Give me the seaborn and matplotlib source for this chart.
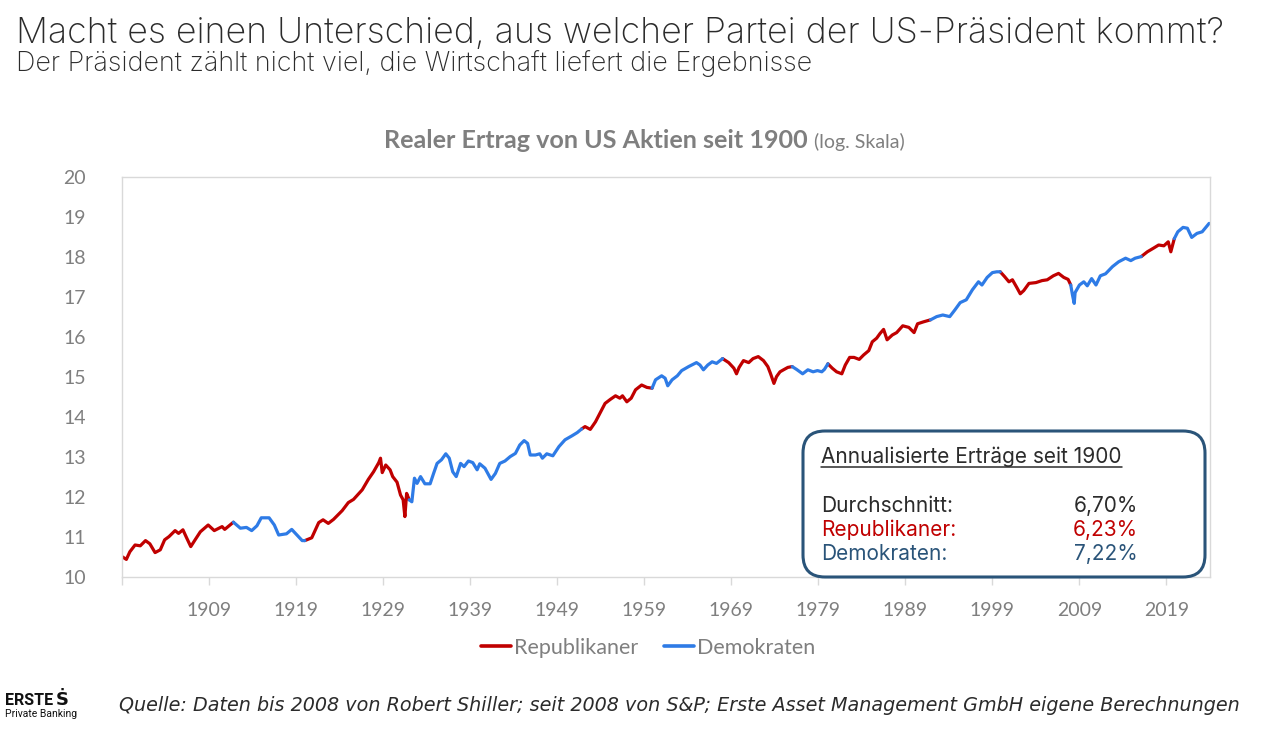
import numpy as np
import pandas as pd
import matplotlib
matplotlib.use("Agg")
import matplotlib.pyplot as plt
import seaborn as sns
from matplotlib.lines import Line2D
from matplotlib.patches import FancyBboxPatch

# ---------------- data ----------------
years = [
    1899.0, 1899.5, 1899.9, 1900.5, 1901.1, 1901.7, 1902.2, 1902.8, 1903.4, 1903.9,
    1904.4, 1905.1, 1905.5, 1906.0, 1906.4, 1906.9, 1907.4, 1908.0, 1908.9, 1909.6,
    1910.5, 1910.8, 1911.8, 1912.6, 1913.3, 1913.9, 1914.5, 1915.0, 1915.9, 1916.5,
    1917.0, 1917.9, 1918.5, 1919.1, 1919.7, 1920.0, 1920.8, 1921.6, 1922.1, 1922.7,
    1923.3, 1924.3, 1925.0, 1925.6, 1926.6, 1927.3, 1927.9, 1928.5, 1928.7, 1928.9,
    1929.3, 1929.8, 1930.1, 1930.6, 1931.0, 1931.3, 1931.5, 1931.7, 1932.0, 1932.3,
    1932.6, 1932.9, 1933.3, 1933.8, 1934.4, 1934.8, 1935.2, 1935.7, 1936.2, 1936.6,
    1937.0, 1937.4, 1937.9, 1938.3, 1938.8, 1939.3, 1939.8, 1940.1, 1940.7, 1941.4,
    1941.9, 1942.4, 1943.0, 1943.6, 1944.2, 1944.7, 1945.2, 1945.6, 1945.9, 1946.5,
    1947.0, 1947.3, 1947.8, 1948.5, 1949.2, 1949.9, 1950.7, 1951.3, 1951.8, 1952.2,
    1952.8, 1953.4, 1953.9, 1954.5, 1955.1, 1955.7, 1956.2, 1956.5, 1957.0, 1957.5,
    1958.0, 1958.7, 1959.3, 1959.9, 1960.3, 1961.0, 1961.4, 1961.7, 1962.2, 1962.8,
    1963.3, 1964.1, 1965.0, 1965.4, 1965.8, 1966.3, 1966.8, 1967.3, 1968.0, 1968.7,
    1969.3, 1969.6, 1969.9, 1970.4, 1971.0, 1971.5, 1972.1, 1972.7, 1973.2, 1973.5,
    1973.9, 1974.2, 1974.6, 1975.0, 1975.5, 1976.0, 1976.5, 1977.2, 1977.8, 1978.4,
    1978.9, 1979.4, 1979.7, 1980.1, 1980.6, 1981.1, 1981.7, 1982.1, 1982.6, 1983.1,
    1983.7, 1984.2, 1984.8, 1985.2, 1985.7, 1986.1, 1986.5, 1986.9, 1987.5, 1988.0,
    1988.7, 1989.4, 1990.0, 1990.4, 1991.1, 1991.9, 1992.6, 1993.3, 1994.1, 1994.7,
    1995.3, 1996.0, 1996.7, 1997.4, 1997.8, 1998.4, 1999.0, 1999.5, 1999.9, 2000.4,
    2000.9, 2001.3, 2001.8, 2002.2, 2002.6, 2003.2, 2004.0, 2004.7, 2005.3, 2006.0,
    2006.6, 2007.2, 2007.7, 2008.0, 2008.2, 2008.4, 2008.5, 2009.0, 2009.5, 2009.9,
    2010.4, 2010.9, 2011.4, 2012.0, 2012.8, 2013.5, 2014.3, 2014.9, 2015.4, 2016.1,
    2016.8, 2017.5, 2018.1, 2018.7, 2019.2, 2019.5, 2019.9, 2020.3, 2020.9, 2021.4,
    2021.9, 2022.5, 2023.1, 2023.9,
]
values = [
    10.51, 10.44, 10.63, 10.80, 10.78, 10.91, 10.83, 10.61, 10.68, 10.93,
    11.01, 11.16, 11.09, 11.18, 10.99, 10.76, 10.93, 11.13, 11.30, 11.16,
    11.26, 11.19, 11.37, 11.22, 11.24, 11.16, 11.28, 11.48, 11.48, 11.30,
    11.05, 11.08, 11.19, 11.05, 10.91, 10.91, 10.98, 11.36, 11.43, 11.34,
    11.44, 11.66, 11.86, 11.94, 12.18, 12.44, 12.63, 12.86, 12.97, 12.61,
    12.80, 12.68, 12.51, 12.37, 12.05, 11.93, 11.51, 12.09, 11.93, 11.88,
    12.47, 12.34, 12.51, 12.33, 12.33, 12.59, 12.84, 12.93, 13.08, 12.97,
    12.63, 12.51, 12.84, 12.76, 12.90, 12.86, 12.68, 12.83, 12.72, 12.44,
    12.59, 12.84, 12.90, 13.01, 13.09, 13.30, 13.41, 13.34, 13.05, 13.05,
    13.08, 12.97, 13.08, 13.03, 13.26, 13.43, 13.53, 13.61, 13.70, 13.76,
    13.69, 13.88, 14.09, 14.34, 14.44, 14.53, 14.47, 14.53, 14.38, 14.47,
    14.68, 14.80, 14.74, 14.72, 14.93, 15.03, 14.97, 14.78, 14.93, 15.03,
    15.16, 15.26, 15.36, 15.30, 15.18, 15.30, 15.38, 15.34, 15.46, 15.36,
    15.22, 15.08, 15.24, 15.41, 15.36, 15.46, 15.51, 15.41, 15.26, 15.09,
    14.84, 15.01, 15.13, 15.18, 15.24, 15.26, 15.19, 15.08, 15.18, 15.13,
    15.16, 15.13, 15.19, 15.33, 15.22, 15.13, 15.08, 15.30, 15.49, 15.49,
    15.44, 15.55, 15.66, 15.88, 15.97, 16.09, 16.19, 15.93, 16.05, 16.11,
    16.28, 16.24, 16.11, 16.33, 16.38, 16.43, 16.51, 16.55, 16.51, 16.68,
    16.86, 16.93, 17.18, 17.38, 17.30, 17.49, 17.61, 17.63, 17.63, 17.51,
    17.38, 17.43, 17.24, 17.08, 17.16, 17.34, 17.36, 17.41, 17.43, 17.53,
    17.59, 17.49, 17.44, 17.30, 17.05, 16.84, 17.11, 17.30, 17.38, 17.28,
    17.46, 17.30, 17.53, 17.58, 17.76, 17.88, 17.97, 17.91, 17.97, 18.01,
    18.13, 18.22, 18.30, 18.28, 18.38, 18.13, 18.46, 18.63, 18.74, 18.72,
    18.49, 18.59, 18.63, 18.84,
]
# x positions where the governing party changes (first segment: Republikaner)
change_years = [1911.8, 1920.0, 1932.0, 1951.8, 1959.9, 1968.0, 1976.0,
                1980.1, 1991.9, 1999.9, 2008.0, 2016.1, 2019.9]
parties = ["Republikaner", "Demokraten"]
x_tick_years = [1899, 1909, 1919, 1929, 1939, 1949, 1959, 1969, 1979, 1989, 1999, 2009, 2019]
x_tick_labels = [""] + [str(y) for y in x_tick_years[1:]]
y_ticks = list(range(10, 21))

box_title = "Annualisierte Erträge seit 1900"
box_labels = ["Durchschnitt:", "Republikaner:", "Demokraten:"]
box_values = ["6,70%", "6,23%", "7,22%"]

# ---------------- build segment table ----------------
yrs = np.array(years)
vals = np.array(values)
bounds = [yrs[0]] + change_years + [yrs[-1]]
frames = []
for i in range(len(bounds) - 1):
    m = (yrs >= bounds[i] - 1e-6) & (yrs <= bounds[i + 1] + 1e-6)
    frames.append(pd.DataFrame({"Jahr": yrs[m], "Wert": vals[m],
                                "Partei": parties[i % 2], "Segment": i}))
df = pd.concat(frames, ignore_index=True)

RED = "#C00000"
BLUE = "#2E7BE6"
GREY = "#7F7F7F"
BOXBLUE = "#2A5479"
DARK = "#2B2B2B"

sns.set_theme(style="white")
plt.rcParams["font.family"] = ["Lato", "DejaVu Sans"]

W, H = 1261, 729
fig = plt.figure(figsize=(W / 100, H / 100), dpi=100)
ax = fig.add_axes([122 / W, 1 - 577 / H, (1210 - 122) / W, (577 - 177) / H])

sns.lineplot(data=df, x="Jahr", y="Wert", hue="Partei", units="Segment",
             estimator=None, palette={"Republikaner": RED, "Demokraten": BLUE},
             linewidth=2.3, legend=False, ax=ax, sort=False)

ax.set_xlim(1899, 2024)
ax.set_ylim(10, 20)
ax.set_xticks(x_tick_years)
ax.set_xticklabels(x_tick_labels)
ax.set_yticks(y_ticks)
ax.set_xlabel("")
ax.set_ylabel("")
for s in ax.spines.values():
    s.set_color("#D9D9D9")
    s.set_linewidth(1.0)
ax.tick_params(axis="x", which="both", bottom=True, length=6, width=1,
               color="#D9D9D9", labelsize=14, labelcolor=GREY, pad=12)
ax.tick_params(axis="y", left=False, labelsize=14, labelcolor=GREY, pad=20)
for lab in ax.get_xticklabels() + ax.get_yticklabels():
    lab.set_fontfamily(["Lato", "DejaVu Sans"])

# ---------------- legend ----------------
handles = [Line2D([0], [0], color=RED, lw=2.6), Line2D([0], [0], color=BLUE, lw=2.6)]
leg = ax.legend(handles, parties, loc="center", ncol=2, frameon=False,
                bbox_to_anchor=(648 / W, 1 - 648 / H), bbox_transform=fig.transFigure,
                handlelength=1.4, handletextpad=0.12, columnspacing=1.2,
                prop={"family": "Lato", "size": 15.5})
for t in leg.get_texts():
    t.set_color(GREY)

# ---------------- titles ----------------
TF = ["Inter", "Roboto", "DejaVu Sans"]
fig.text(16 / W, 1 - 42.7 / H, "Macht es einen Unterschied, aus welcher Partei der US-Präsident kommt?",
         family=TF, fontweight="light", fontsize=25.7, color=DARK,
         ha="left", va="baseline")
fig.text(16 / W, 1 - 70.7 / H, "Der Präsident zählt nicht viel, die Wirtschaft liefert die Ergebnisse",
         family=TF, fontweight="light", fontsize=19.4, color=DARK,
         ha="left", va="baseline")

t_main = fig.text(384 / W, 1 - 148 / H, "Realer Ertrag von US Aktien seit 1900",
                  family=["Lato", "DejaVu Sans"], fontweight="bold", fontsize=18.1,
                  color=GREY, ha="left", va="baseline")
fig.canvas.draw()
r = fig.canvas.get_renderer()
bb = t_main.get_window_extent(r)
fig.text((bb.x1 + 6) / W, 1 - 148 / H, "(log. Skala)", family=["Lato", "DejaVu Sans"],
         fontsize=14, color=GREY, ha="left", va="baseline")

# ---------------- info box ----------------
box = FancyBboxPatch((8.03, (H - 577) / 100), 4.02, 1.46,
                     boxstyle="round,pad=0,rounding_size=0.22",
                     transform=fig.dpi_scale_trans, facecolor="white",
                     edgecolor=BOXBLUE, linewidth=2.2, zorder=5)
fig.add_artist(box)

tb = fig.text(821 / W, 1 - 462.7 / H, box_title, family=TF, fontsize=15,
              color=DARK, ha="left", va="baseline", zorder=6)
fig.canvas.draw()
bbt = tb.get_window_extent(fig.canvas.get_renderer())
uy = (H - 466.7) / H
fig.add_artist(Line2D([bbt.x0 / W, bbt.x1 / W], [uy, uy],
                      transform=fig.transFigure, color=DARK, lw=1.1, zorder=6))
row_y = [511.5, 535.5, 560]
row_c = [DARK, RED, BOXBLUE]
for lbl, v, yy, c in zip(box_labels, box_values, row_y, row_c):
    fig.text(821 / W, 1 - yy / H, lbl, family=TF, fontsize=15, color=c,
             ha="left", va="baseline", zorder=6)
    fig.text(1138 / W, 1 - yy / H, v, family=TF, fontsize=15, color=c,
             ha="right", va="baseline", zorder=6)

# ---------------- footer ----------------
t_logo = fig.text(5 / W, 1 - 705 / H, "ERSTE", family=["Roboto", "DejaVu Sans"], fontweight="bold",
                  fontsize=11.5, color="#111111", ha="left", va="baseline")
fig.canvas.draw()
bl = t_logo.get_window_extent(fig.canvas.get_renderer())
fig.text((bl.x1 + 3) / W, 1 - 705 / H, "Ṡ", family=["DejaVu Sans"], fontweight="bold",
         fontsize=13, color="#111111", ha="left", va="baseline")
fig.text(5 / W, 1 - 717 / H, "Private Banking", family=["Roboto", "DejaVu Sans"],
         fontsize=7.5, color="#111111", ha="left", va="baseline")
fig.text(119 / W, 1 - 711 / H,
         "Quelle: Daten bis 2008 von Robert Shiller; seit 2008 von S&P; Erste Asset Management GmbH eigene Berechnungen",
         family=["DejaVu Sans"], fontstyle="italic", fontsize=13.8,
         color=DARK, ha="left", va="baseline")

fig.savefig("out.png", dpi=100)
